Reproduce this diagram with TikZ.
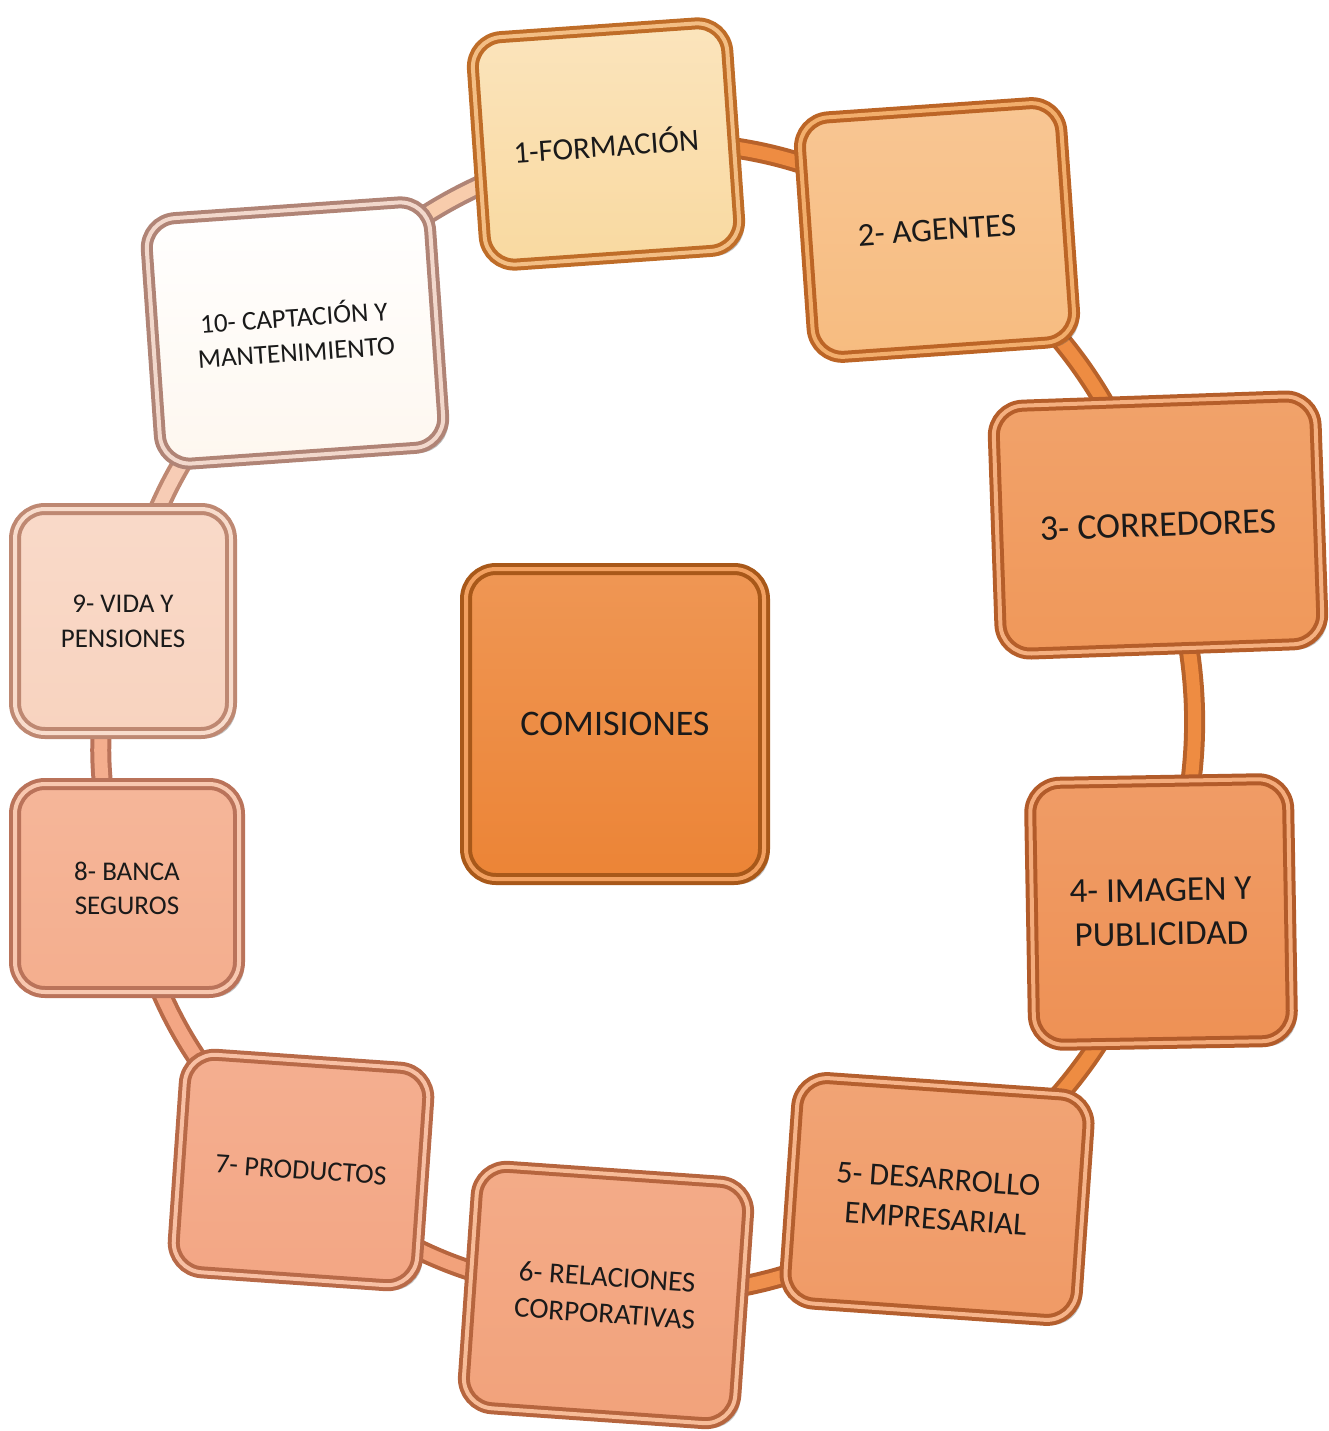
\documentclass[tikz,border=0pt]{standalone}
\usepackage{fontspec}
\setmainfont{Carlito}
\usetikzlibrary{shadows,backgrounds}
\newcommand{\fsz}[2]{\fontsize{#1}{#2}\selectfont}
\definecolor{txt}{HTML}{1A1A1A}
\definecolor{fA}{HTML}{F9D9A0}\definecolor{rA}{HTML}{BF6D28}\definecolor{hA}{HTML}{F3BE84}
\definecolor{fB}{HTML}{F7BC80}\definecolor{rB}{HTML}{BC6526}\definecolor{hB}{HTML}{F2AE6C}
\definecolor{fC}{HTML}{F0985A}\definecolor{rC}{HTML}{B55E2A}\definecolor{hC}{HTML}{F5B080}
\definecolor{fD}{HTML}{EE9155}\definecolor{rD}{HTML}{B25B2A}\definecolor{hD}{HTML}{F4AC7C}
\definecolor{fE}{HTML}{F09A66}\definecolor{rE}{HTML}{B45F2E}\definecolor{hE}{HTML}{F6B48A}
\definecolor{fF}{HTML}{F2A27B}\definecolor{rF}{HTML}{B6653E}\definecolor{hF}{HTML}{F7BC98}
\definecolor{fG}{HTML}{F3A684}\definecolor{rG}{HTML}{B86A48}\definecolor{hG}{HTML}{F8C0A4}
\definecolor{fH}{HTML}{F4AE8E}\definecolor{rH}{HTML}{BA735A}\definecolor{hH}{HTML}{F8C8B0}
\definecolor{fI}{HTML}{F8D3BF}\definecolor{rI}{HTML}{BE8872}\definecolor{hI}{HTML}{F8DCCC}
\definecolor{fJ}{HTML}{FEF7EF}\definecolor{rJ}{HTML}{B08476}\definecolor{hJ}{HTML}{F2D8CC}
\definecolor{fK}{HTML}{EC8436}\definecolor{rK}{HTML}{A85819}\definecolor{hK}{HTML}{F2A060}
\definecolor{ringO}{HTML}{EE8C42}\definecolor{ringE}{HTML}{B8622A}
\begin{document}
\begin{tikzpicture}[x=1pt,y=-1pt,
  tile/.style={rectangle, rounded corners=30pt, align=center, text=txt,
    line width=4pt, double distance=4pt, inner sep=0pt,
    drop shadow={shadow xshift=5pt, shadow yshift=-5pt, opacity=0.35, fill=black!70}},
  ring/.style={line width=4pt, double distance=13pt}]
\useasboundingbox (0,0) rectangle (1328,1431);

\node[tile, draw=rK, double=hK, top color=fK!85!white, bottom color=fK,
  minimum width=298pt, minimum height=310pt, font=\fsz{36}{44}] (c) at (615,724) {COMISIONES};

\node[tile, draw=rA, double=hA, top color=fA!70!white, bottom color=fA,
  minimum width=255pt, minimum height=228pt, rotate=4, font=\fsz{31}{38}] (n1) at (606,144) {1-FORMACIÓN};
\node[tile, draw=rB, double=hB, top color=fB!85!white, bottom color=fB,
  minimum width=262pt, minimum height=240pt, rotate=4, font=\fsz{33}{40}] (n2) at (937,230) {2- AGENTES};
\node[tile, draw=rC, double=hC, top color=fC!90!white, bottom color=fC,
  minimum width=322pt, minimum height=248pt, rotate=2, font=\fsz{36}{44}] (n3) at (1158,525) {3- CORREDORES};
\node[tile, draw=rD, double=hD, top color=fD!90!white, bottom color=fD,
  minimum width=258pt, minimum height=262pt, rotate=1, font=\fsz{35}{44}] (n4) at (1161,912) {4- IMAGEN Y\\PUBLICIDAD};
\node[tile, draw=rE, double=hE, top color=fE!90!white, bottom color=fE,
  minimum width=292pt, minimum height=226pt, rotate=-4, font=\fsz{32}{40}] (n5) at (937,1199) {5- DESARROLLO\\EMPRESARIAL};
\node[tile, draw=rF, double=hF, top color=fF!90!white, bottom color=fF,
  minimum width=272pt, minimum height=242pt, rotate=-4, font=\fsz{29}{37}] (n6) at (606,1295) {6- RELACIONES\\CORPORATIVAS};
\node[tile, draw=rG, double=hG, top color=fG!90!white, bottom color=fG,
  minimum width=244pt, minimum height=218pt, rotate=-4, font=\fsz{28}{34}] (n7) at (301,1170) {7- PRODUCTOS};
\node[tile, draw=rH, double=hH, top color=fH!90!white, bottom color=fH,
  minimum width=224pt, minimum height=208pt, font=\fsz{27}{34}] (n8) at (127,888) {8- BANCA\\SEGUROS};
\node[tile, draw=rI, double=hI, top color=fI!85!white, bottom color=fI,
  minimum width=216pt, minimum height=224pt, font=\fsz{27}{35}] (n9) at (123,621) {9- VIDA Y\\PENSIONES};
\node[tile, draw=rJ, double=hJ, top color=white, bottom color=fJ,
  minimum width=284pt, minimum height=246pt, rotate=4, font=\fsz{27}{35}] (n10) at (295,333) {10- CAPTACIÓN Y\\MANTENIMIENTO};

\begin{scope}[on background layer]
  \draw[ring, draw=ringE, double=ringO] (n1.center) to[bend left=18] (n2.center);
  \draw[ring, draw=ringE, double=ringO] (n2.center) to[bend left=18] (n3.center);
  \draw[ring, draw=ringE, double=ringO] (n3.center) to[bend left=18] (n4.center);
  \draw[ring, draw=ringE, double=ringO] (n4.center) to[bend left=18] (n5.center);
  \draw[ring, draw=rE, double=ringO!80!fF] (n5.center) to[bend left=18] (n6.center);
  \draw[ring, draw=rF, double=fF] (n6.center) to[bend left=18] (n7.center);
  \draw[ring, draw=rG, double=fG] (n7.center) to[bend left=18] (n8.center);
  \draw[ring, draw=rH, double=fH] (n8.center) to[bend left=18] (n9.center);
  \draw[ring, draw=rI, double=fI!80!fH] (n9.center) to[bend left=18] (n10.center);
  \draw[ring, draw=rJ, double=fI!70!fB] (n10.center) to[bend left=18] (n1.center);
\end{scope}
\end{tikzpicture}
\end{document}
